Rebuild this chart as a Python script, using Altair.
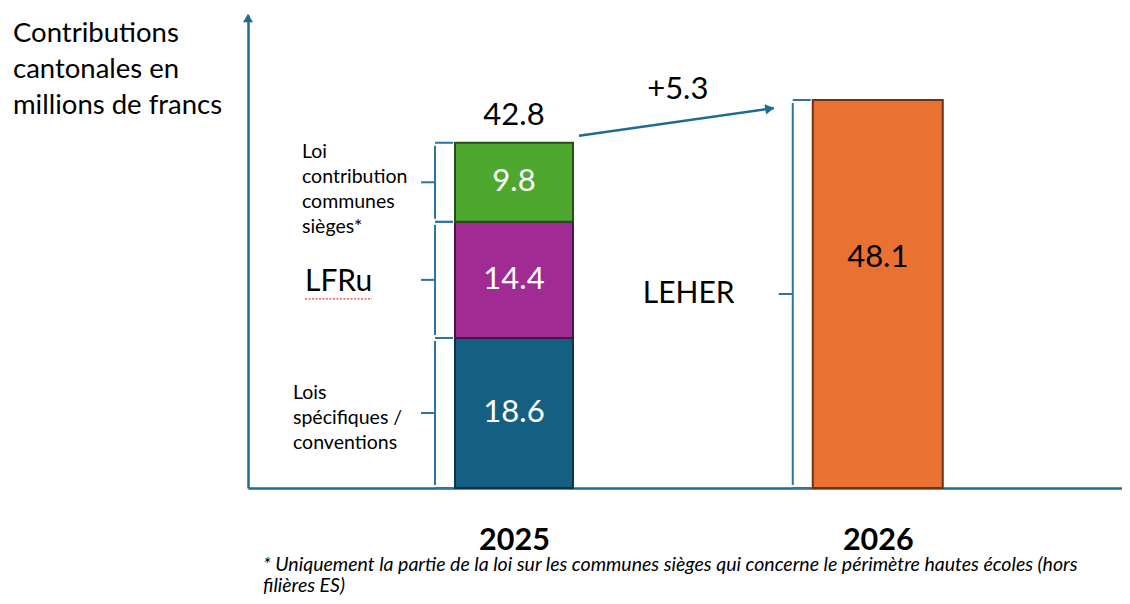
import altair as alt
import pandas as pd

# ---- data ----
years = [2025, 2025, 2025, 2026]
categories = ["Lois spécifiques / conventions", "LFRu", "Loi contribution communes sièges*", "LEHER"]
side_labels = ["Lois\nspécifiques /\nconventions", "LFRu", "Loi\ncontribution\ncommunes\nsièges*", "LEHER"]
values = [18.6, 14.4, 9.8, 48.1]
fill_colors = ["#156082", "#A02B93", "#4EA72E", "#E97132"]
stroke_colors = ["#0B3448", "#4A1444", "#24501A", "#6B3418"]
tick_years = [2025, 2026]
title_text = "Contributions\ncantonales en\nmillions de francs"
footnote_text = ("* Uniquement la partie de la loi sur les communes sièges qui concerne le périmètre hautes écoles (hors"
                 "\nfilières ES)")

FONT = "Lato"
AXIS_COLOR = "#1F6B91"
BRACE_COLOR = "#2E74A0"

df = pd.DataFrame({"year": years, "category": categories, "label": side_labels, "value": values})
df["end"] = df.groupby("year")["value"].cumsum().round(1)
df["start"] = (df["end"] - df["value"]).round(1)
df["mid"] = (df["start"] + df["end"]) / 2

totals = df.groupby("year", as_index=False)["value"].sum().rename(columns={"value": "total"})
totals["total"] = totals["total"].round(1)
t0, t1 = float(totals.total.iloc[0]), float(totals.total.iloc[1])
arrow_df = pd.DataFrame({"x": [tick_years[0]], "x2": [tick_years[1]], "y": [t0], "y2": [t1],
                         "delta": [f"+{t1 - t0:.1f}"]})

xscale = alt.Scale(domain=[2024.2826, 2026.6576], nice=False, zero=False)
yscale = alt.Scale(domain=[0, 58.64], nice=False, zero=True)
xaxis = alt.Axis(values=tick_years, format="d", title=None, ticks=False, grid=False,
                 domainColor=AXIS_COLOR, domainWidth=2.5, labelFont=FONT, labelFontSize=30.5,
                 labelFontWeight="bold", labelColor="#000000", labelPadding=37)
yaxis = alt.Axis(title=None, ticks=False, labels=False, grid=False,
                 domainColor=AXIS_COLOR, domainWidth=2.5)


def X(field="year"):
    return alt.X(f"{field}:Q", scale=xscale, axis=xaxis)


def Y(field):
    return alt.Y(f"{field}:Q", scale=yscale, axis=yaxis)


fill_enc = alt.Fill("category:N", scale=alt.Scale(domain=categories, range=fill_colors), legend=None)
stroke_enc = alt.Stroke("category:N", scale=alt.Scale(domain=categories, range=stroke_colors), legend=None)

d25 = df[df.year == 2025]
d26 = df[df.year == 2026]

bars25 = alt.Chart(d25).mark_bar(width=118, strokeWidth=2).encode(
    x=X(), y=Y("start"), y2="end", fill=fill_enc, stroke=stroke_enc)
bars26 = alt.Chart(d26).mark_bar(width=130, strokeWidth=2).encode(
    x=X(), y=Y("start"), y2="end", fill=fill_enc, stroke=stroke_enc)

vals25 = alt.Chart(d25).mark_text(font=FONT, fontSize=31, color="white").encode(
    x=X(), y=Y("mid"), text=alt.Text("value:Q", format=".1f"))
vals26 = alt.Chart(d26).mark_text(font=FONT, fontSize=31, color="black", dy=-36).encode(
    x=X(), y=Y("mid"), text=alt.Text("value:Q", format=".1f"))

green_label = alt.Chart(d25[d25.category == categories[2]]).mark_text(
    font=FONT, fontSize=19.5, color="black", align="left", dx=-212, dy=-30,
    lineBreak="\n", lineHeight=25).encode(x=X(), y=Y("mid"), text="label:N")
blue_label = alt.Chart(d25[d25.category == categories[0]]).mark_text(
    font=FONT, fontSize=19.5, color="black", align="left", dx=-221, dy=-20,
    lineBreak="\n", lineHeight=25).encode(x=X(), y=Y("mid"), text="label:N")
lfru_label = alt.Chart(d25[d25.category == "LFRu"]).mark_text(
    font=FONT, fontSize=30, color="black", align="left", dx=-209, dy=2).encode(
    x=X(), y=Y("mid"), text="label:N")
lfru_underline = alt.Chart(d25[d25.category == "LFRu"]).mark_rule(
    color="#E04040", strokeWidth=1.2, strokeDash=[2, 1.5], xOffset=-209, x2Offset=-142, yOffset=19, y2Offset=19).encode(
    x=X(), x2="year:Q", y=Y("mid"))
leher_label = alt.Chart(d26).mark_text(
    font=FONT, fontSize=30, color="black", align="left", dx=-235).encode(
    x=X(), y=Y("mid"), text="label:N")


def braces(data, half_w):
    off = -(half_w + 20)
    vert = alt.Chart(data).mark_rule(color=BRACE_COLOR, strokeWidth=2, xOffset=off, x2Offset=off,
                                     yOffset=-3, y2Offset=3).encode(
        x=X(), y=Y("start"), y2="end")
    mid = alt.Chart(data).mark_rule(color=BRACE_COLOR, strokeWidth=2, xOffset=off - 14, x2Offset=off).encode(
        x=X(), x2="year:Q", y=Y("mid"))
    top = alt.Chart(data).mark_rule(color=BRACE_COLOR, strokeWidth=2, xOffset=off, x2Offset=-half_w - 2).encode(
        x=X(), x2="year:Q", y=Y("end"))
    bot = alt.Chart(data).mark_rule(color=BRACE_COLOR, strokeWidth=2, xOffset=off, x2Offset=-half_w - 2).encode(
        x=X(), x2="year:Q", y=Y("start"))
    return [vert, mid, top, bot]


total_label = alt.Chart(totals[totals.year == 2025]).mark_text(
    font=FONT, fontSize=31, color="black", dy=-27).encode(
    x=X(), y=Y("total"), text=alt.Text("total:Q", format=".1f"))

arrow_line = alt.Chart(arrow_df).mark_rule(color=AXIS_COLOR, strokeWidth=2.5, xOffset=65, x2Offset=-104,
                                           yOffset=-7, y2Offset=8).encode(
    x=X("x"), x2="x2:Q", y=Y("y"), y2="y2:Q")
arrow_head = alt.Chart(arrow_df).mark_point(shape="triangle-up", angle=82, filled=True, size=110,
                                            color=AXIS_COLOR, opacity=1, xOffset=-108, yOffset=8.7).encode(
    x=X("x2"), y=Y("y2"))
delta_label = alt.Chart(arrow_df).mark_text(font=FONT, fontSize=31, color="black", dx=-200, dy=-10).encode(
    x=X("x2"), y=Y("y2"), text="delta:N")

y_arrow = alt.Chart(pd.DataFrame({"a": [0]})).mark_point(
    shape="triangle-up", filled=True, size=100, color=AXIS_COLOR, opacity=1).encode(
    x=alt.value(0), y=alt.value(3))

title = alt.Chart(pd.DataFrame({"t": [title_text]})).mark_text(
    font=FONT, fontSize=27.5, color="black", align="left", baseline="top", lineBreak="\n", lineHeight=36).encode(
    x=alt.value(-235), y=alt.value(5), text="t:N")

footnote = alt.Chart(pd.DataFrame({"t": [footnote_text]})).mark_text(
    font=FONT, fontSize=19.5, fontStyle="italic", color="black", align="left", baseline="alphabetic",
    lineBreak="\n", lineHeight=21).encode(
    x=alt.value(15), y=alt.value(556), text="t:N")

layers = [bars25, bars26, vals25, vals26, green_label, blue_label, lfru_label, lfru_underline, leher_label]
layers += braces(d25, 59) + braces(d26, 65)
layers += [total_label, arrow_line, arrow_head, delta_label, y_arrow, title, footnote]

chart = alt.layer(*layers).properties(
    width=874, height=473,
    autosize=alt.AutoSizeParams(type="none"),
    padding={"left": 240, "top": 7, "right": 0, "bottom": 107},
).configure_view(stroke=None)

chart.save("out.html", embed_options={"renderer": "svg", "actions": False})
